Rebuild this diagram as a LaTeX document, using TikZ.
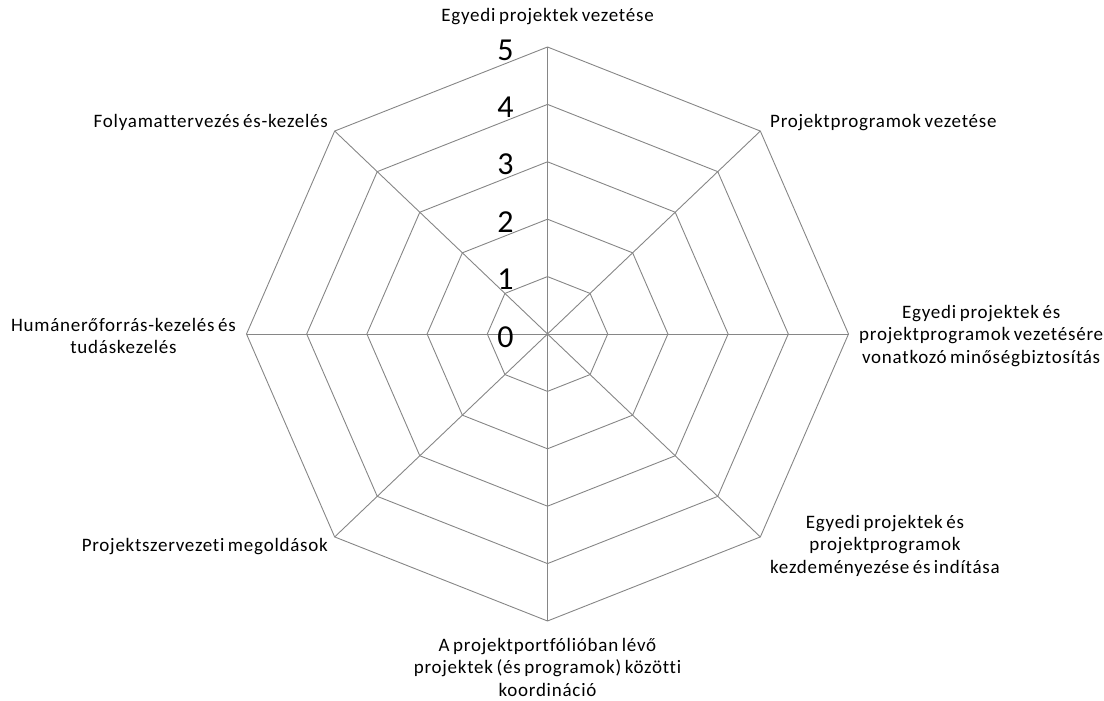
\documentclass[tikz,border=0pt]{standalone}
\usepackage{fontspec}
\setmainfont{Carlito}[LetterSpace = 4, WordSpace = 0.7, Ligatures = NoCommon]
\definecolor{gridgray}{RGB}{134,134,134}

\begin{document}
\begin{tikzpicture}[x=1pt, y=1pt,
  grid line/.style = {draw, color = gridgray, line width = 0.9pt, line join = miter},
  axis label/.style = {font = \fontsize{19}{22.5}\selectfont, align = center, inner sep = 0pt},
  level label/.style = {font = \fontsize{32}{36}\selectfont, anchor = east, inner sep = 0pt}]
\useasboundingbox (0,0) rectangle (1104,701);
\begin{scope}[shift = {(547.5,367)}, x = 60.2pt, y = 57.4pt]
% rings
\foreach \r in {1,...,5}
  \path [grid line] (0:\r) \foreach \a in {45,90,...,315} { -- (\a:\r) } -- cycle;
% spokes
\foreach \a in {0,45,...,315}
  \path [grid line] (0,0) -- (\a:5);
% scale
\foreach \r in {0,...,5}
  \path (-0.56,\r-0.05) node [level label] (lev\r) {\r};
\end{scope}
\path (547.5,676) node [axis label, anchor = south] (ax1) {Egyedi projektek vezetése};
\path (770,570) node [axis label, anchor = south west] (ax2) {Projektprogramok vezetése};
\path (859,365) node [axis label, anchor = west] (ax3) {Egyedi projektek és\\projektprogramok vezetésére\\vonatkozó minőségbiztosítás};
\path (770,186) node [axis label, anchor = north west] (ax4) {Egyedi projektek és\\projektprogramok\\kezdeményezése és indítása};
\path (547.5,63) node [axis label, anchor = north] (ax5) {A projektportfólióban lévő\\projektek (és programok) közötti\\koordináció};
\path (328,154) node [axis label, anchor = east] (ax6) {Projektszervezeti megoldások};
\path (236,365) node [axis label, anchor = east] (ax7) {Humánerőforrás-kezelés és\\tudáskezelés};
\path (328,570) node [axis label, anchor = south east] (ax8) {Folyamattervezés és-kezelés};
\end{tikzpicture}
\end{document}
